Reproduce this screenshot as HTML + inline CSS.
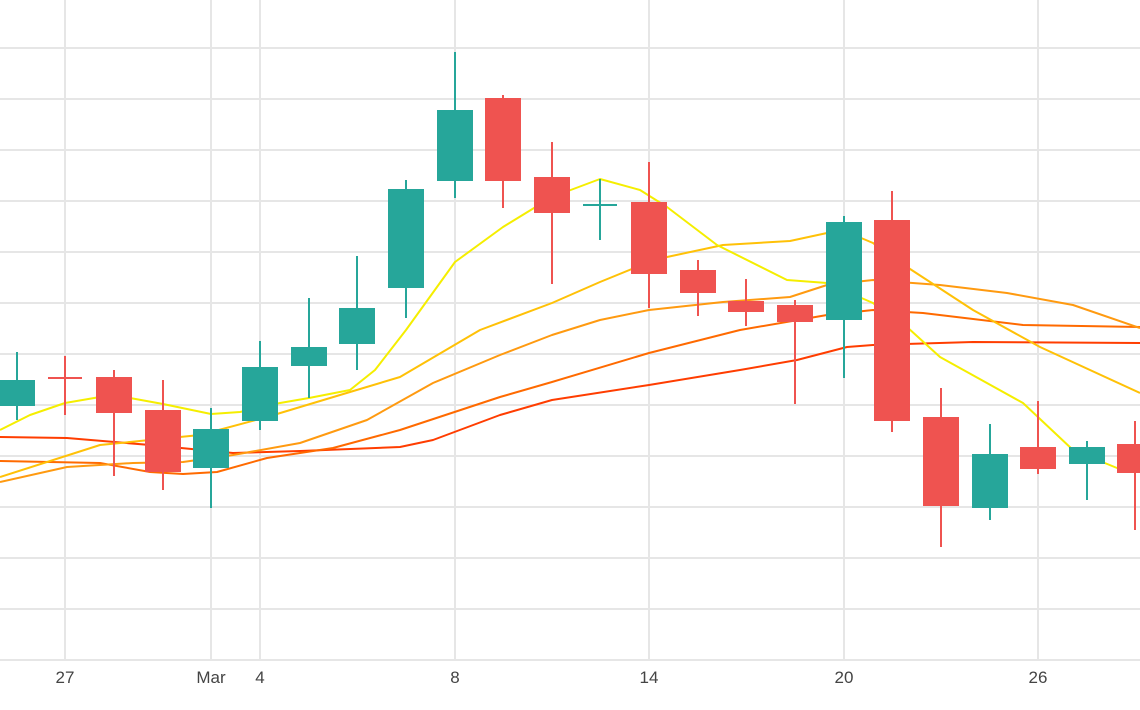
<!DOCTYPE html>
<html><head><meta charset="utf-8"><style>
html,body{margin:0;padding:0;background:#fff;}
svg{display:block;}
text{font-family:"Liberation Sans",sans-serif;font-size:17px;fill:#444;}
</style></head><body>
<svg width="1140" height="710" viewBox="0 0 1140 710" xmlns="http://www.w3.org/2000/svg">
<g stroke="#e6e6e6" stroke-width="2">
<line x1="0" x2="1140" y1="48" y2="48"/><line x1="0" x2="1140" y1="99" y2="99"/><line x1="0" x2="1140" y1="150" y2="150"/><line x1="0" x2="1140" y1="201" y2="201"/><line x1="0" x2="1140" y1="252" y2="252"/><line x1="0" x2="1140" y1="303" y2="303"/><line x1="0" x2="1140" y1="354" y2="354"/><line x1="0" x2="1140" y1="405" y2="405"/><line x1="0" x2="1140" y1="456" y2="456"/><line x1="0" x2="1140" y1="507" y2="507"/><line x1="0" x2="1140" y1="558" y2="558"/><line x1="0" x2="1140" y1="609" y2="609"/><line x1="0" x2="1140" y1="660" y2="660"/>
<line x1="65" x2="65" y1="0" y2="660"/><line x1="211" x2="211" y1="0" y2="660"/><line x1="260" x2="260" y1="0" y2="660"/><line x1="455" x2="455" y1="0" y2="660"/><line x1="649" x2="649" y1="0" y2="660"/><line x1="844" x2="844" y1="0" y2="660"/><line x1="1038" x2="1038" y1="0" y2="660"/>
</g>
<g fill="none" stroke-width="2" stroke-linejoin="round">
<polyline stroke="#ff3d00" points="0,437 67,438 150,445 233,453 300,451 400,447 433,440 500,415 552,400 649,385 740,370 797,360 847,347 873,345 973,342 1140,343"/>
<polyline stroke="#ff6a00" points="0,461 100,463 150,472 183,474 217,472 267,458 333,448 400,430 500,397 552,382 649,353 740,330 827,315 873,310 923,313 1023,325 1140,327"/>
<polyline stroke="#ff9a10" points="0,482 67,467 133,463 183,462 233,455 300,443 367,420 433,383 500,355 552,335 600,320 649,310 723,302 790,297 827,285 873,280 940,285 1007,293 1073,305 1140,328"/>
<polyline stroke="#ffc107" points="0,477 100,445 200,435 267,417 350,392 400,377 480,330 552,303 600,282 649,262 667,257 723,245 790,241 827,233 847,232 873,243 907,267 973,310 1040,347 1140,393"/>
<polyline stroke="#f5ee00" points="0,430 30,415 65,403 100,397 130,398 163,404 211,414 240,412 280,403 309,398 350,390 375,370 406,330 455,262 503,227 552,197 600,179 640,190 667,207 717,245 787,280 827,283 873,303 907,327 940,357 1023,403 1073,450 1117,468 1140,468"/>
</g>
<g stroke-width="2">
<g stroke="#26a69a" fill="#26a69a">
<line x1="17" x2="17" y1="352" y2="420"/><rect x="0" y="381" width="34" height="24"/>
<line x1="211" x2="211" y1="408" y2="508"/><rect x="194" y="430" width="34" height="37"/>
<line x1="260" x2="260" y1="341" y2="430"/><rect x="243" y="368" width="34" height="52"/>
<line x1="309" x2="309" y1="298" y2="398"/><rect x="292" y="348" width="34" height="17"/>
<line x1="357" x2="357" y1="256" y2="370"/><rect x="340" y="309" width="34" height="34"/>
<line x1="406" x2="406" y1="180" y2="318"/><rect x="389" y="190" width="34" height="97"/>
<line x1="455" x2="455" y1="52" y2="198"/><rect x="438" y="111" width="34" height="69"/>
<line x1="600" x2="600" y1="179" y2="240"/><line x1="583" x2="617" y1="205" y2="205"/>
<line x1="844" x2="844" y1="216" y2="378"/><rect x="827" y="223" width="34" height="96"/>
<line x1="990" x2="990" y1="424" y2="520"/><rect x="973" y="455" width="34" height="52"/>
<line x1="1087" x2="1087" y1="441" y2="500"/><rect x="1070" y="448" width="34" height="15"/>
</g>
<g stroke="#ef5350" fill="#ef5350">
<line x1="65" x2="65" y1="356" y2="415"/><line x1="48" x2="82" y1="378" y2="378"/>
<line x1="114" x2="114" y1="370" y2="476"/><rect x="97" y="378" width="34" height="34"/>
<line x1="163" x2="163" y1="380" y2="490"/><rect x="146" y="411" width="34" height="60"/>
<line x1="503" x2="503" y1="95" y2="208"/><rect x="486" y="99" width="34" height="81"/>
<line x1="552" x2="552" y1="142" y2="284"/><rect x="535" y="178" width="34" height="34"/>
<line x1="649" x2="649" y1="162" y2="308"/><rect x="632" y="203" width="34" height="70"/>
<line x1="698" x2="698" y1="260" y2="316"/><rect x="681" y="271" width="34" height="21"/>
<line x1="746" x2="746" y1="279" y2="326"/><rect x="729" y="302" width="34" height="9"/>
<line x1="795" x2="795" y1="300" y2="404"/><rect x="778" y="306" width="34" height="15"/>
<line x1="892" x2="892" y1="191" y2="432"/><rect x="875" y="221" width="34" height="199"/>
<line x1="941" x2="941" y1="388" y2="547"/><rect x="924" y="418" width="34" height="87"/>
<line x1="1038" x2="1038" y1="401" y2="474"/><rect x="1021" y="448" width="34" height="20"/>
<line x1="1135" x2="1135" y1="421" y2="530"/><rect x="1118" y="445" width="34" height="27"/>
</g>
</g>
<g text-anchor="middle">
<text x="65" y="683">27</text><text x="211" y="683">Mar</text><text x="260" y="683">4</text><text x="455" y="683">8</text><text x="649" y="683">14</text><text x="844" y="683">20</text><text x="1038" y="683">26</text>
</g>
</svg>
</body></html>
